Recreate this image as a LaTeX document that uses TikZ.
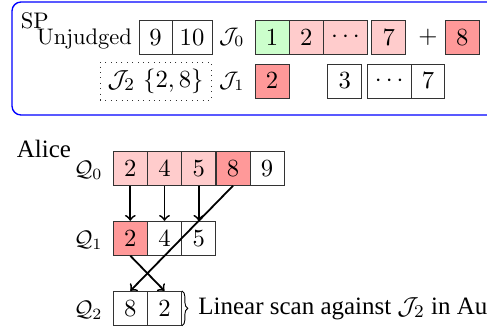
\documentclass[tikz,border=0pt]{standalone}
\usepackage{fontspec}
\newfontfamily\tms{Liberation Serif}
\usetikzlibrary{decorations.pathreplacing}
\newcommand\pxu{0.4444pt}
\begin{document}
\begin{tikzpicture}[x=0.4444pt,y=-0.4444pt,
  cell/.style={draw=black!80, minimum height=34*\pxu, minimum width=34*\pxu, inner sep=0pt, anchor=center, font=\fontsize{10.95}{13}\selectfont},
  pk/.style={cell, fill=red!20},
  rd/.style={cell, fill=red!40},
  gr/.style={cell, fill=green!20},
  lab/.style={inner sep=0pt},
  times/.style={font=\fontsize{11.1}{13}\selectfont\tms},
  arr/.style={->, thick}]
\useasboundingbox (0,0) rectangle (487,329);
\clip (0,0) rectangle (487,329);
% SP frame (open on the right: it runs past the picture's edge)
\draw[blue, line width=0.6pt, rounded corners=4pt] (490,2) -- (12,2) -- (12,115) -- (490,115);
\node[lab, anchor=base west] (splab) at (20.5,28) {SP};
\node[lab, anchor=base west] (unj) at (36.5,44) {Unjudged};
% top row
\node[cell, minimum width=33*\pxu] (u9) at (155.5,37.5) {$9$};
\node[cell, minimum width=40*\pxu] (u10) at (192,37.5) {$10$};
\node[lab, anchor=east] (j0) at (245,37.5) {$\mathcal{J}_0$};
\node[gr] (a1) at (272,37.5) {$1$};
\node[pk] (a2) at (306.3,37.5) {$2$};
\node[pk, minimum width=44.4*\pxu] (ad) at (345.5,37.5) {$\cdots$};
\node[pk] (a7) at (388.9,37.5) {$7$};
\node[lab, font=\fontsize{10.95}{13}\selectfont] (plus) at (428,37.5) {$+$};
\node[rd] (a8) at (462.2,37.5) {$8$};
% second row
\node[draw=black!80, dotted, minimum width=111*\pxu, minimum height=38*\pxu, inner sep=0pt, font=\fontsize{10.95}{13}\selectfont] (j2box) at (155.5,81) {$\mathcal{J}_2$ $\{2,8\}$};
\node[lab, anchor=east] (j1) at (245,81) {$\mathcal{J}_1$};
\node[rd] (b2) at (272,81) {$2$};
\node[cell] (b3) at (344.8,81) {$3$};
\node[cell, minimum width=44.3*\pxu] (bd) at (389.2,81) {$\cdots$};
\node[cell, minimum width=33.4*\pxu] (b7) at (428,81) {$7$};
% Alice
\node[lab, anchor=base west, times] (alice) at (16.5,157) {Alice};
\node[lab, anchor=east] (q0) at (103,170) {$\mathcal{Q}_0$};
\node[lab, anchor=east] (q1) at (103,240) {$\mathcal{Q}_1$};
\node[lab, anchor=east] (q2) at (103,310) {$\mathcal{Q}_2$};
\node[pk] (q0a) at (130.3,168.3) {$2$};
\node[pk] (q0b) at (164.5,168.3) {$4$};
\node[pk] (q0c) at (198.8,168.3) {$5$};
\node[rd] (q0d) at (233,168.3) {$8$};
\node[cell] (q0e) at (267,168.3) {$9$};
\node[rd] (q1a) at (130.3,238.3) {$2$};
\node[cell] (q1b) at (164.5,238.3) {$4$};
\node[cell] (q1c) at (198.8,238.3) {$5$};
\node[cell] (q2a) at (130.3,308.3) {$8$};
\node[cell] (q2b) at (164.5,308.3) {$2$};
% arrows
\draw[arr] (q0a) -- (q1a);
\draw[arr] (q0b) -- (q1b);
\draw[arr] (q0c) -- (q1c);
\draw[arr] (q0d.south) -- (q2a.north);
\draw[arr] (q1a.south) -- (q2b.north);
% brace
\draw[decorate, decoration={brace, amplitude=2.6pt}] (q2b.north east) -- (q2b.south east);
\node[lab, anchor=base west, times] (scan) at (198,314) {Linear scan against $\mathcal{J}_2$ in Au};
\end{tikzpicture}
\end{document}
